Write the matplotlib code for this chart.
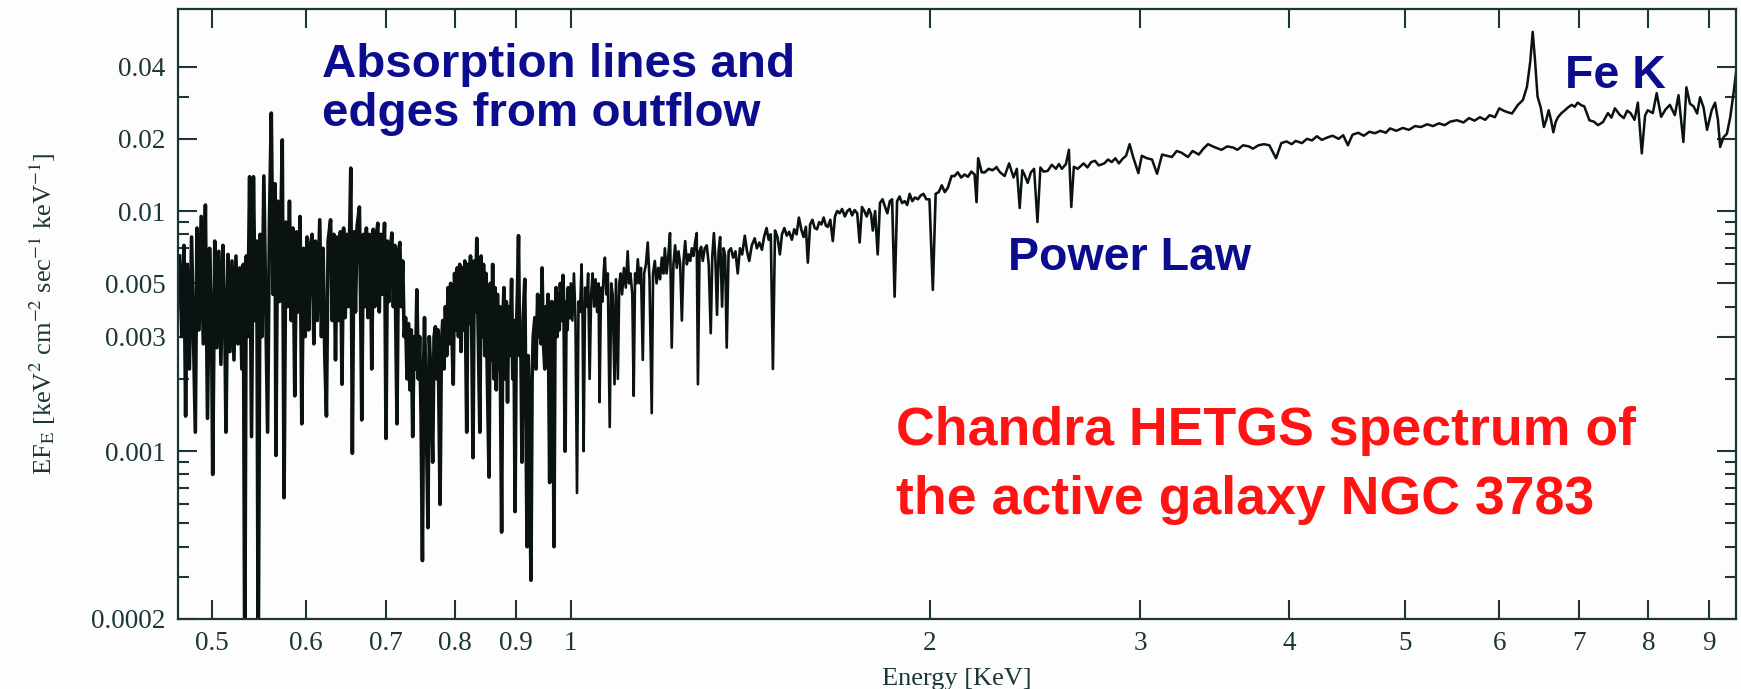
import matplotlib
matplotlib.use('Agg')
import matplotlib.pyplot as plt
from matplotlib.ticker import FixedLocator, FixedFormatter, NullFormatter
import numpy as np

# spectrum, split in three bands
soft_kev = [0.470, 0.472, 0.474, 0.4755, 0.477, 0.479, 0.481, 0.483, 0.4845, 0.486, 0.488, 0.490, 0.492, 0.494, 0.496, 0.498,
            0.500, 0.501, 0.503, 0.505, 0.507, 0.509, 0.511, 0.513, 0.514, 0.516, 0.518, 0.520, 0.522, 0.524, 0.526, 0.528,
            0.530, 0.5315, 0.533, 0.5345, 0.536, 0.538, 0.540, 0.542, 0.544, 0.5455, 0.547, 0.549, 0.551, 0.553, 0.555, 0.557,
            0.559, 0.561, 0.563, 0.565, 0.566, 0.568, 0.570, 0.573, 0.575, 0.577, 0.579, 0.581, 0.583, 0.585, 0.587, 0.589,
            0.591, 0.593, 0.595, 0.597, 0.599, 0.601, 0.603, 0.605, 0.607, 0.609, 0.611, 0.613, 0.616, 0.618, 0.620, 0.622,
            0.624, 0.626, 0.629, 0.631, 0.633, 0.635, 0.637, 0.639, 0.641, 0.643, 0.645, 0.647, 0.649, 0.651, 0.654, 0.656,
            0.658, 0.660, 0.662, 0.665, 0.667, 0.668, 0.670, 0.672, 0.674, 0.676, 0.678, 0.680, 0.681, 0.683, 0.685, 0.687,
            0.689, 0.691, 0.693, 0.695, 0.698, 0.700, 0.702, 0.704, 0.706, 0.708, 0.710, 0.712, 0.715, 0.717, 0.719, 0.721,
            0.723, 0.725, 0.727, 0.729, 0.731, 0.733, 0.735, 0.737, 0.739, 0.741, 0.743, 0.745, 0.747, 0.749, 0.751, 0.753,
            0.754, 0.756, 0.759, 0.761, 0.763, 0.766, 0.768, 0.770, 0.772, 0.774, 0.777, 0.779, 0.781, 0.783, 0.785, 0.787,
            0.789, 0.791, 0.793, 0.795, 0.797, 0.799, 0.801, 0.803, 0.805, 0.807, 0.809, 0.811, 0.813, 0.815, 0.818, 0.820,
            0.822, 0.824, 0.826, 0.828, 0.830, 0.832, 0.834, 0.836, 0.839, 0.841, 0.843, 0.845, 0.847, 0.849, 0.851, 0.854,
            0.856, 0.858, 0.860, 0.862, 0.864, 0.866, 0.868, 0.870, 0.872, 0.875, 0.877, 0.879, 0.881, 0.883, 0.885, 0.887,
            0.889, 0.892, 0.894, 0.896, 0.898, 0.900, 0.902, 0.904, 0.906, 0.908, 0.910, 0.912, 0.915, 0.917, 0.919, 0.921,
            0.923, 0.926, 0.928, 0.930, 0.933, 0.935, 0.938, 0.940, 0.942, 0.944, 0.946, 0.948, 0.951, 0.953, 0.955, 0.957,
            0.960, 0.962, 0.964, 0.966, 0.968, 0.970, 0.972, 0.974, 0.976, 0.978, 0.980, 0.983, 0.985, 0.987, 0.989, 0.991,
            0.993, 0.995, 0.997]
soft_flux = [0.0065, 0.0030, 0.0072, 0.0014, 0.0060, 0.0022, 0.0078, 0.0026, 0.0012, 0.0085, 0.0032, 0.0095, 0.0028, 0.0106, 0.00137, 0.0070,
             0.0030, 0.0008, 0.0075, 0.0027, 0.0068, 0.0023, 0.0072, 0.0030, 0.0012, 0.0066, 0.0026, 0.0062, 0.0024, 0.0065, 0.0028, 0.0058,
             0.0022, 0.0060, 0.00012, 0.0065, 0.0030, 0.0139, 0.00115, 0.0139, 0.0035, 0.0075, 0.00012, 0.0080, 0.0030, 0.0140, 0.0040, 0.0012,
             0.0090, 0.0256, 0.0045, 0.0130, 0.00096, 0.0110, 0.0042, 0.0198, 0.00064, 0.0090, 0.0040, 0.0110, 0.0035, 0.0085, 0.0017, 0.0082,
             0.0038, 0.0095, 0.0013, 0.0070, 0.0030, 0.0078, 0.0032, 0.0072, 0.0080, 0.0028, 0.0075, 0.0035, 0.0092, 0.0030, 0.0070, 0.0025,
             0.0014, 0.0075, 0.0092, 0.0035, 0.0080, 0.0024, 0.0078, 0.0035, 0.0082, 0.0019, 0.0085, 0.0036, 0.0080, 0.0040, 0.0151, 0.00098,
             0.0082, 0.0038, 0.0086, 0.0104, 0.0030, 0.00135, 0.0080, 0.0040, 0.0085, 0.0036, 0.0080, 0.0042, 0.0022, 0.0084, 0.0040, 0.0078,
             0.0089, 0.0038, 0.0080, 0.0045, 0.0089, 0.00113, 0.0075, 0.0042, 0.0070, 0.0081, 0.0040, 0.0072, 0.0013, 0.0068, 0.0074, 0.0040,
             0.0062, 0.0030, 0.0036, 0.0020, 0.0034, 0.0018, 0.0032, 0.00115, 0.0030, 0.0022, 0.0047, 0.0020, 0.0030, 0.0014, 0.00035, 0.0025,
             0.0036, 0.0018, 0.00048, 0.0030, 0.0022, 0.0009, 0.0030, 0.0033, 0.0020, 0.0032, 0.0006, 0.0028, 0.0035, 0.0022, 0.0040, 0.0025,
             0.0048, 0.0028, 0.0050, 0.0030, 0.0019, 0.0055, 0.0032, 0.0058, 0.0030, 0.0060, 0.0026, 0.0058, 0.0032, 0.0062, 0.0012, 0.0060,
             0.0034, 0.0065, 0.0030, 0.00094, 0.0062, 0.0038, 0.0077, 0.0035, 0.0012, 0.0065, 0.0030, 0.0060, 0.0025, 0.0055, 0.0022, 0.00078,
             0.0050, 0.0024, 0.0060, 0.0020, 0.0048, 0.0018, 0.0045, 0.0022, 0.0040, 0.00046, 0.0035, 0.0048, 0.0020, 0.0042, 0.0016, 0.0040,
             0.0025, 0.0052, 0.0020, 0.0035, 0.00056, 0.0030, 0.0045, 0.0079, 0.0025, 0.0030, 0.0009, 0.0035, 0.0052, 0.0015, 0.0004, 0.0025,
             0.0012, 0.00029, 0.0020, 0.0030, 0.0036, 0.0022, 0.0045, 0.0030, 0.0040, 0.0028, 0.0058, 0.0030, 0.0022, 0.0040, 0.0032, 0.0045,
             0.00074, 0.0038, 0.0042, 0.0030, 0.0004, 0.0035, 0.0048, 0.0030, 0.0045, 0.0032, 0.0050, 0.0035, 0.0054, 0.0036, 0.0010, 0.0042,
             0.0032, 0.0048, 0.0036]

mid_kev = [0.997, 1.000, 1.003, 1.006, 1.009, 1.012, 1.015, 1.018, 1.021, 1.023, 1.025, 1.028, 1.031, 1.034, 1.037, 1.040, 1.043,
           1.046, 1.049, 1.052, 1.055, 1.057, 1.060, 1.063, 1.066, 1.068, 1.071, 1.074, 1.078, 1.081, 1.084, 1.088, 1.091,
           1.095, 1.098, 1.101, 1.104, 1.108, 1.112, 1.116, 1.119, 1.122, 1.126, 1.129, 1.132, 1.135, 1.138, 1.142, 1.145,
           1.149, 1.152, 1.156, 1.160, 1.164, 1.169, 1.172, 1.176, 1.180, 1.184, 1.188, 1.192, 1.196, 1.199, 1.203, 1.207,
           1.211, 1.215, 1.219, 1.223, 1.227, 1.231, 1.235, 1.239, 1.243, 1.247, 1.251, 1.255, 1.259, 1.263, 1.267, 1.271,
           1.275, 1.278, 1.282, 1.286, 1.290, 1.295, 1.300, 1.305, 1.310, 1.314, 1.318, 1.322, 1.326, 1.330, 1.334, 1.339,
           1.343, 1.347, 1.351, 1.356, 1.362, 1.368, 1.374, 1.380, 1.386, 1.392, 1.399, 1.405, 1.411, 1.418, 1.426, 1.432,
           1.439, 1.446, 1.452, 1.459, 1.465, 1.471, 1.477, 1.483, 1.490, 1.497, 1.503, 1.510, 1.517, 1.524, 1.532, 1.539,
           1.546, 1.553, 1.560, 1.567, 1.574, 1.580, 1.587, 1.594, 1.601, 1.608, 1.615, 1.622, 1.629, 1.636, 1.642, 1.650,
           1.658, 1.665, 1.672, 1.680, 1.688, 1.697, 1.705, 1.713, 1.721, 1.729, 1.738, 1.746, 1.754, 1.762, 1.770, 1.778,
           1.785, 1.791, 1.799, 1.808, 1.816, 1.825, 1.834, 1.842, 1.851, 1.859, 1.868, 1.877, 1.886, 1.895, 1.905, 1.914,
           1.923, 1.933, 1.943, 1.954, 1.964, 1.975, 1.986, 1.998, 2.011, 2.022, 2.034, 2.046, 2.058, 2.070, 2.085, 2.097,
           2.110, 2.124, 2.138, 2.152, 2.166, 2.180, 2.188, 2.195, 2.210, 2.223, 2.240, 2.256, 2.274]
mid_flux = [0.0036, 0.0050, 0.0035, 0.0055, 0.0036, 0.00067, 0.0042, 0.0038, 0.0060, 0.0035, 0.0010, 0.0048, 0.0040, 0.0055, 0.0020, 0.0045, 0.0055,
            0.0040, 0.0052, 0.0038, 0.0050, 0.0016, 0.0048, 0.0042, 0.0058, 0.0064, 0.0045, 0.0055, 0.00126, 0.0050, 0.0045, 0.0019, 0.0052,
            0.0020, 0.0050, 0.0055, 0.0045, 0.0058, 0.0048, 0.0068, 0.0050, 0.0055, 0.0045, 0.0017, 0.0055, 0.0050, 0.0063, 0.0050, 0.0058,
            0.0024, 0.0055, 0.0060, 0.0074, 0.0052, 0.00144, 0.0055, 0.0062, 0.0050, 0.0058, 0.0052, 0.0064, 0.0055, 0.0070, 0.0055, 0.0065,
            0.0081, 0.0027, 0.0060, 0.0072, 0.0058, 0.0068, 0.0060, 0.0035, 0.0062, 0.0075, 0.0060, 0.0066, 0.0062, 0.0070, 0.0065, 0.0074,
            0.0081, 0.0019, 0.0068, 0.0071, 0.0062, 0.0070, 0.0072, 0.0060, 0.0031, 0.0065, 0.0081, 0.0062, 0.0037, 0.0068, 0.0078, 0.0040,
            0.0070, 0.0065, 0.0027, 0.0068, 0.0070, 0.0064, 0.0068, 0.0055, 0.0070, 0.0066, 0.0079, 0.0068, 0.0062, 0.0072, 0.0077, 0.0070,
            0.0074, 0.0069, 0.0078, 0.0085, 0.0076, 0.0080, 0.0022, 0.0083, 0.0078, 0.0066, 0.0080, 0.0085, 0.0079, 0.0082, 0.0076, 0.0084,
            0.0080, 0.0094, 0.0084, 0.0078, 0.0086, 0.0061, 0.0088, 0.0092, 0.0085, 0.0084, 0.0090, 0.0088, 0.0094, 0.0087, 0.0086, 0.0092,
            0.0075, 0.0095, 0.0100, 0.0098, 0.0102, 0.0095, 0.0100, 0.0102, 0.0096, 0.0101, 0.0098, 0.0074, 0.0104, 0.0100, 0.0095, 0.0102,
            0.0097, 0.0083, 0.0100, 0.0066, 0.0108, 0.0112, 0.0104, 0.0098, 0.0110, 0.0112, 0.0044, 0.0110, 0.0115, 0.0108, 0.0110, 0.0106,
            0.0118, 0.0110, 0.0114, 0.0112, 0.0116, 0.0118, 0.0112, 0.0112, 0.0047, 0.0118, 0.0120, 0.0128, 0.0120, 0.0125, 0.0140, 0.0140,
            0.0145, 0.0138, 0.0142, 0.0139, 0.0146, 0.0142, 0.0109, 0.0166, 0.0145, 0.0145, 0.0150, 0.0148, 0.0152]

hard_kev = [2.274, 2.290, 2.310, 2.330, 2.350, 2.365, 2.378, 2.390, 2.400, 2.415, 2.430, 2.445, 2.461, 2.475, 2.490, 2.510, 2.530,
            2.550, 2.565, 2.580, 2.600, 2.615, 2.627, 2.640, 2.660, 2.690, 2.710, 2.730, 2.750, 2.770, 2.800, 2.820, 2.840,
            2.860, 2.880, 2.900, 2.920, 2.940, 2.960, 2.990, 3.010, 3.040, 3.070, 3.100, 3.130, 3.160, 3.190, 3.220, 3.250,
            3.290, 3.320, 3.360, 3.390, 3.420, 3.460, 3.510, 3.550, 3.590, 3.620, 3.660, 3.700, 3.730, 3.770, 3.810, 3.850,
            3.900, 3.940, 3.980, 4.020, 4.050, 4.100, 4.140, 4.180, 4.220, 4.260, 4.310, 4.350, 4.400, 4.440, 4.480, 4.520,
            4.570, 4.620, 4.670, 4.720, 4.770, 4.820, 4.860, 4.920, 4.980, 5.040, 5.100, 5.160, 5.220, 5.280, 5.340, 5.400,
            5.460, 5.530, 5.600, 5.660, 5.720, 5.780, 5.840, 5.890, 5.950, 6.000, 6.050, 6.100, 6.150, 6.220, 6.280, 6.330,
            6.370, 6.400, 6.430, 6.460, 6.500, 6.540, 6.570, 6.600, 6.630, 6.660, 6.690, 6.720, 6.760, 6.810, 6.850, 6.900,
            6.940, 6.980, 7.030, 7.070, 7.140, 7.200, 7.260, 7.330, 7.400, 7.450, 7.500, 7.570, 7.630, 7.680, 7.730, 7.790,
            7.840, 7.900, 7.950, 7.990, 8.070, 8.130, 8.200, 8.270, 8.340, 8.420, 8.480, 8.560, 8.610, 8.670, 8.730, 8.790,
            8.840, 8.900, 8.960, 9.040, 9.100, 9.150, 9.190, 9.250, 9.310, 9.370, 9.430, 9.500]
hard_flux = [0.0152, 0.0145, 0.0140, 0.0158, 0.0138, 0.0150, 0.0103, 0.0148, 0.0142, 0.0131, 0.0145, 0.0150, 0.0090, 0.0152, 0.0146, 0.0147, 0.0156,
             0.0150, 0.0157, 0.0150, 0.0157, 0.0180, 0.0104, 0.0153, 0.0150, 0.0158, 0.0152, 0.0160, 0.0162, 0.0155, 0.0158, 0.0164, 0.0160,
             0.0166, 0.0158, 0.0165, 0.0170, 0.0190, 0.0168, 0.0144, 0.0170, 0.0166, 0.0164, 0.0143, 0.0172, 0.0170, 0.0168, 0.0178, 0.0175,
             0.0168, 0.0178, 0.0172, 0.0182, 0.0190, 0.0185, 0.0180, 0.0186, 0.0184, 0.0180, 0.0188, 0.0186, 0.0182, 0.0188, 0.0190, 0.0188,
             0.0166, 0.0192, 0.0195, 0.0190, 0.0196, 0.0192, 0.0200, 0.0197, 0.0205, 0.0198, 0.0203, 0.0206, 0.0200, 0.0207, 0.0188, 0.0208,
             0.0212, 0.0206, 0.0214, 0.0211, 0.0216, 0.0212, 0.0221, 0.0216, 0.0222, 0.0218, 0.0226, 0.0224, 0.0230, 0.0226, 0.0232, 0.0228,
             0.0236, 0.0239, 0.0234, 0.0244, 0.0238, 0.0246, 0.0240, 0.0251, 0.0246, 0.0268, 0.0262, 0.0258, 0.0255, 0.0277, 0.0290, 0.0330,
             0.0420, 0.0558, 0.0420, 0.0300, 0.0270, 0.0224, 0.0240, 0.0263, 0.0240, 0.0213, 0.0235, 0.0246, 0.0255, 0.0263, 0.0270, 0.0277,
             0.0272, 0.0283, 0.0276, 0.0273, 0.0239, 0.0236, 0.0228, 0.0235, 0.0256, 0.0245, 0.0268, 0.0252, 0.0244, 0.0262, 0.0256, 0.0240,
             0.0283, 0.0174, 0.0250, 0.0263, 0.0256, 0.0310, 0.0247, 0.0265, 0.0277, 0.0251, 0.0304, 0.0194, 0.0328, 0.0280, 0.0273, 0.0255,
             0.0298, 0.0270, 0.0218, 0.0263, 0.0283, 0.0240, 0.0185, 0.0203, 0.0210, 0.0246, 0.0310, 0.0420]

x_ticks = [0.5, 0.6, 0.7, 0.8, 0.9, 1, 2, 3, 4, 5, 6, 7, 8, 9]
x_labels = ['0.5', '0.6', '0.7', '0.8', '0.9', '1', '2', '3', '4', '5', '6', '7', '8', '9']
y_ticks = [0.0002, 0.001, 0.003, 0.005, 0.01, 0.02, 0.04]
y_labels = ['0.0002', '0.001', '0.003', '0.005', '0.01', '0.02', '0.04']
y_minor = [0.0003, 0.0004, 0.0005, 0.0006, 0.0007, 0.0008, 0.0009, 0.002, 0.004,
           0.006, 0.007, 0.008, 0.009, 0.03]

plt.rcParams['mathtext.fontset'] = 'stix'
axcol = '#1a3636'
linecol = '#0a1212'
blue = '#0c0c8e'
red = '#ff1414'

fig = plt.figure(figsize=(17.41, 6.89), dpi=100, facecolor='#fdfdfd')
ax = fig.add_axes([0.1022, 0.1016, 0.8949, 0.8853])
ax.set_facecolor('#fdfdfd')
# the dense soft band is drawn a little heavier so it reads as a solid mass
ax.plot(soft_kev, soft_flux, color=linecol, lw=2.6)
ax.plot(mid_kev, mid_flux, color=linecol, lw=1.9)
ax.plot(hard_kev, hard_flux, color=linecol, lw=1.8)

ax.set_xscale('log')
ax.set_yscale('log')
ax.set_xlim(0.4685, 9.474)
ax.set_ylim(0.0002, 0.06945)

ax.xaxis.set_major_locator(FixedLocator(x_ticks))
ax.xaxis.set_major_formatter(FixedFormatter(x_labels))
ax.xaxis.set_minor_locator(FixedLocator([]))
ax.xaxis.set_minor_formatter(NullFormatter())
ax.yaxis.set_major_locator(FixedLocator(y_ticks))
ax.yaxis.set_major_formatter(FixedFormatter(y_labels))
ax.yaxis.set_minor_locator(FixedLocator(y_minor))
ax.yaxis.set_minor_formatter(NullFormatter())

for s in ax.spines.values():
    s.set_color(axcol)
    s.set_linewidth(1.6)
ax.tick_params(which='both', direction='in', top=True, right=True, color=axcol, width=1.5,
               labelcolor=axcol, labelsize=19.5)
ax.tick_params(which='major', length=14, pad=9)
ax.tick_params(which='minor', length=8)
for lab in ax.get_xticklabels() + ax.get_yticklabels():
    lab.set_family('Liberation Serif')

ax.set_xlabel('Energy [KeV]', family='Liberation Serif', fontsize=19, color=axcol, labelpad=8)
ax.set_ylabel(r'EF$_{\mathrm{E}}$ [keV$^{2}$ cm$^{-2}$ sec$^{-1}$ keV$^{-1}$]',
              family='Liberation Serif', fontsize=19, color=axcol, labelpad=24)

W, H = 1741.0, 689.0
def put(px, py, s, color, size):
    fig.text(px / W, 1 - py / H, s, color=color, fontsize=size, fontweight='bold',
             family='Liberation Sans', ha='left', va='baseline')

put(322, 77, 'Absorption lines and', blue, 34.2)
put(322, 126, 'edges from outflow', blue, 34.2)
put(1008, 270, 'Power Law', blue, 33.5)
put(1565, 88, 'Fe K', blue, 33.5)
put(896, 445, 'Chandra HETGS spectrum of', red, 38.6)
put(896, 514, 'the active galaxy NGC 3783', red, 38.6)

fig.savefig('out.png', dpi=100, facecolor=fig.get_facecolor())
